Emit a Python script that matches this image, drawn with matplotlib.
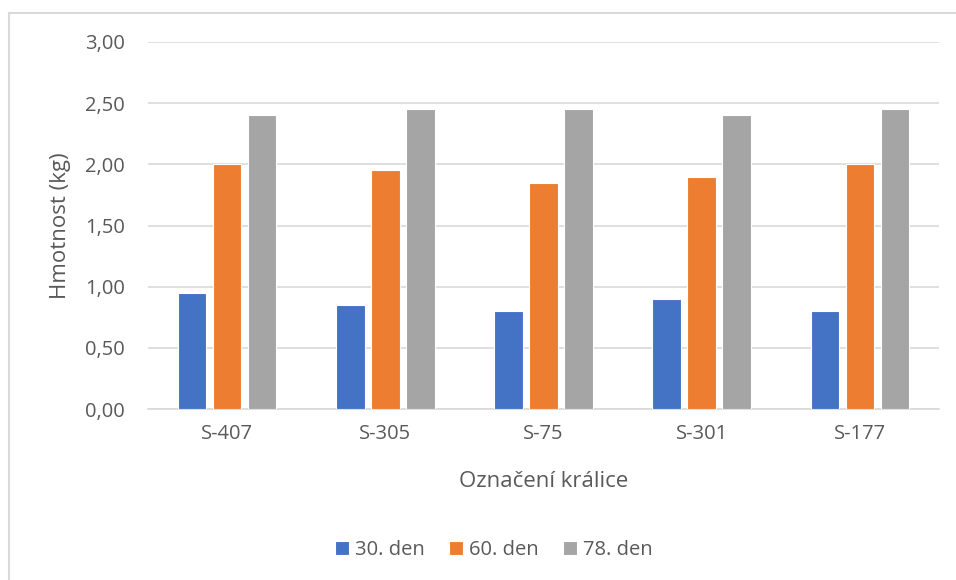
import matplotlib
matplotlib.use("Agg")
import matplotlib.pyplot as plt
import numpy as np
from matplotlib.lines import Line2D

categories = ["S-407", "S-305", "S-75", "S-301", "S-177"]
series_names = ["30. den", "60. den", "78. den"]
day30 = [0.95, 0.85, 0.80, 0.90, 0.80]
day60 = [2.00, 1.95, 1.85, 1.90, 2.00]
day78 = [2.40, 2.45, 2.45, 2.40, 2.45]
colors = ["#4472C4", "#ED7D31", "#A5A5A5"]

plt.rcParams['font.family'] = ['Open Sans', 'DejaVu Sans']
txt = "#595959"

W, H = 956, 580
fig = plt.figure(figsize=(W/100, H/100), dpi=100)
ax = fig.add_axes([148/W, 1-409/H, (939-148)/W, (409-42)/H])

x = np.arange(len(categories))
bw = 0.18
off = 0.221
for i, (vals, name, c) in enumerate(zip([day30, day60, day78], series_names, colors)):
    ax.bar(x + (i-1)*off, vals, width=bw, color=c, edgecolor="white", linewidth=0.8, label=name, zorder=3)

ax.set_xlim(-0.5, len(categories)-0.5)
ax.set_ylim(0, 3.0)
ticks = np.arange(0, 3.01, 0.5)
ax.set_yticks(ticks)
ax.set_yticklabels([f"{t:.2f}".replace(".", ",") for t in ticks])
ax.set_xticks(x)
ax.set_xticklabels(categories)
ax.tick_params(axis='both', length=0, labelsize=14.5, colors=txt)
ax.tick_params(axis='y', pad=16.5)
ax.tick_params(axis='x', pad=11)
ax.grid(axis='y', color="#D9D9D9", linewidth=1.2, zorder=0)
for s in ["top", "right", "left"]:
    ax.spines[s].set_visible(False)
ax.spines["bottom"].set_color("#D9D9D9")
ax.spines["bottom"].set_linewidth(1.2)

ax.set_ylabel("Hmotnost (kg)", fontsize=16, color=txt, labelpad=10)
ax.set_xlabel("Označení králice", fontsize=16, color=txt, labelpad=19.5)

leg = fig.legend(loc="center", bbox_to_anchor=(494/W, 1-550/H), ncol=3, frameon=False,
                 fontsize=14.5, handlelength=0.7, handleheight=0.7, handletextpad=0.3,
                 columnspacing=1.2)
for t in leg.get_texts():
    t.set_color(txt)

fig.add_artist(Line2D([9/W, 9/W], [0, 1-13/H], color="#D9D9D9", linewidth=1.5))
fig.add_artist(Line2D([9/W, 1], [1-13/H, 1-13/H], color="#D9D9D9", linewidth=1.5))

fig.savefig("out.png", dpi=100)
